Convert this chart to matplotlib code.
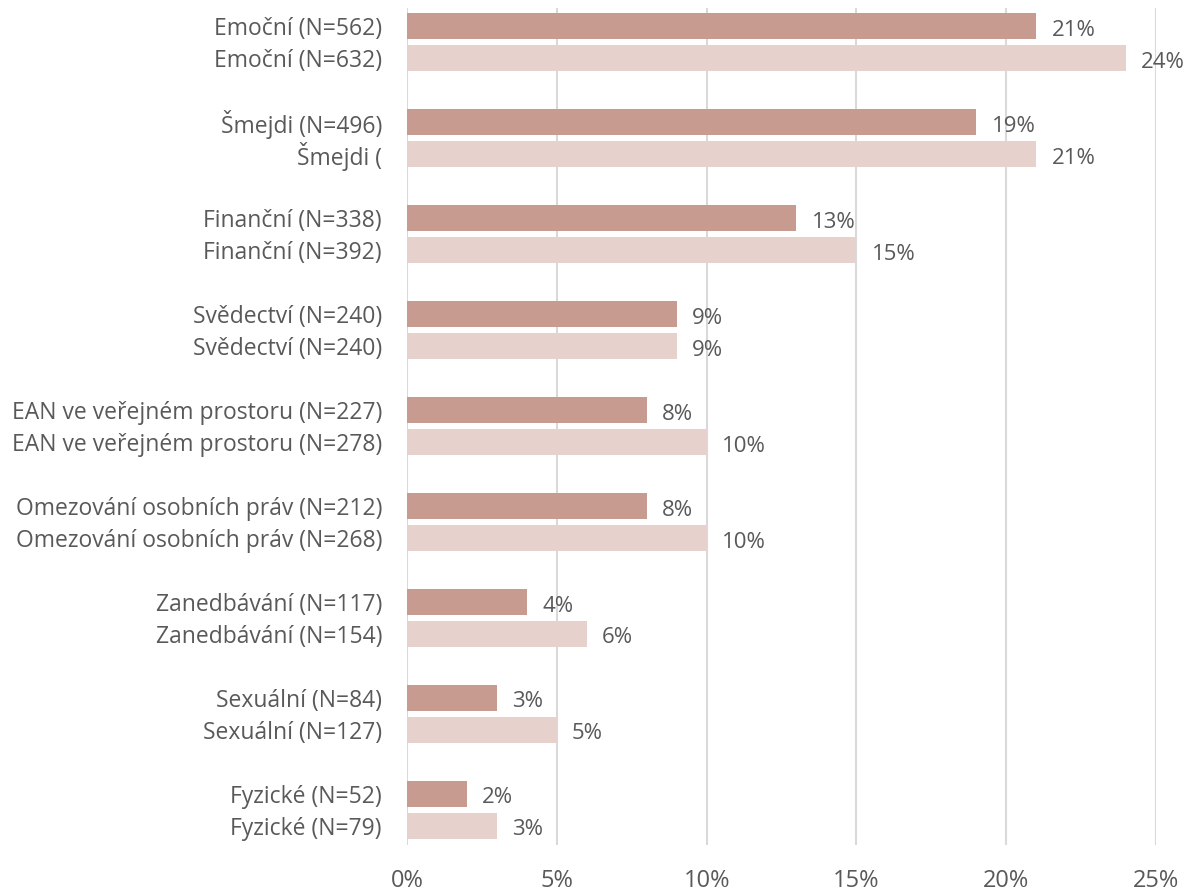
import matplotlib.pyplot as plt

plt.rcParams['font.family'] = ['Open Sans', 'DejaVu Sans']

labels_a = ['Emoční (N=562)', 'Šmejdi (N=496)', 'Finanční (N=338)', 'Svědectví (N=240)',
            'EAN ve veřejném prostoru (N=227)', 'Omezování osobních práv (N=212)',
            'Zanedbávání (N=117)', 'Sexuální (N=84)', 'Fyzické (N=52)']
labels_b = ['Emoční (N=632)', 'Šmejdi (', 'Finanční (N=392)', 'Svědectví (N=240)',
            'EAN ve veřejném prostoru (N=278)', 'Omezování osobních práv (N=268)',
            'Zanedbávání (N=154)', 'Sexuální (N=127)', 'Fyzické (N=79)']
values_a = [21, 19, 13, 9, 8, 8, 4, 3, 2]
values_b = [24, 21, 15, 9, 10, 10, 6, 5, 3]

dark = '#C89B90'
light = '#E6D1CC'
grey = '#595959'

fig = plt.figure(figsize=(11.95, 8.91), dpi=100)
ax = fig.add_axes([407 / 1195, 1 - 845 / 891, (1156 - 407) / 1195, (845 - 8) / 891])

# two bars per category, empty slot between groups
pos_a = [i * 3 for i in range(len(values_a))]
pos_b = [i * 3 + 1 for i in range(len(values_b))]
ax.barh(pos_a, values_a, height=0.8, color=dark, zorder=3)
ax.barh(pos_b, values_b, height=0.8, color=light, zorder=3)

for p, v in zip(pos_a + pos_b, values_a + values_b):
    ax.annotate('{}%'.format(v), (v, p), xytext=(11, -3), textcoords='offset points',
                va='center', ha='left', fontsize=16, color=grey)

ax.set_yticks(pos_a + pos_b)
ax.set_yticklabels(labels_a + labels_b)
ax.set_ylim(25.6, -0.56)
ax.set_xlim(0, 25)
ax.set_xticks(range(0, 26, 5))
ax.set_xticklabels(['{}%'.format(t) for t in range(0, 26, 5)])
ax.tick_params(axis='y', length=0, pad=18, labelsize=16.5, labelcolor=grey)
ax.tick_params(axis='x', length=0, pad=17, labelsize=17, labelcolor=grey)
ax.grid(axis='x', color='#D9D9D9', linewidth=1.5, zorder=0)
for s in ax.spines.values():
    s.set_visible(False)

fig.savefig('out.png', dpi=100)
